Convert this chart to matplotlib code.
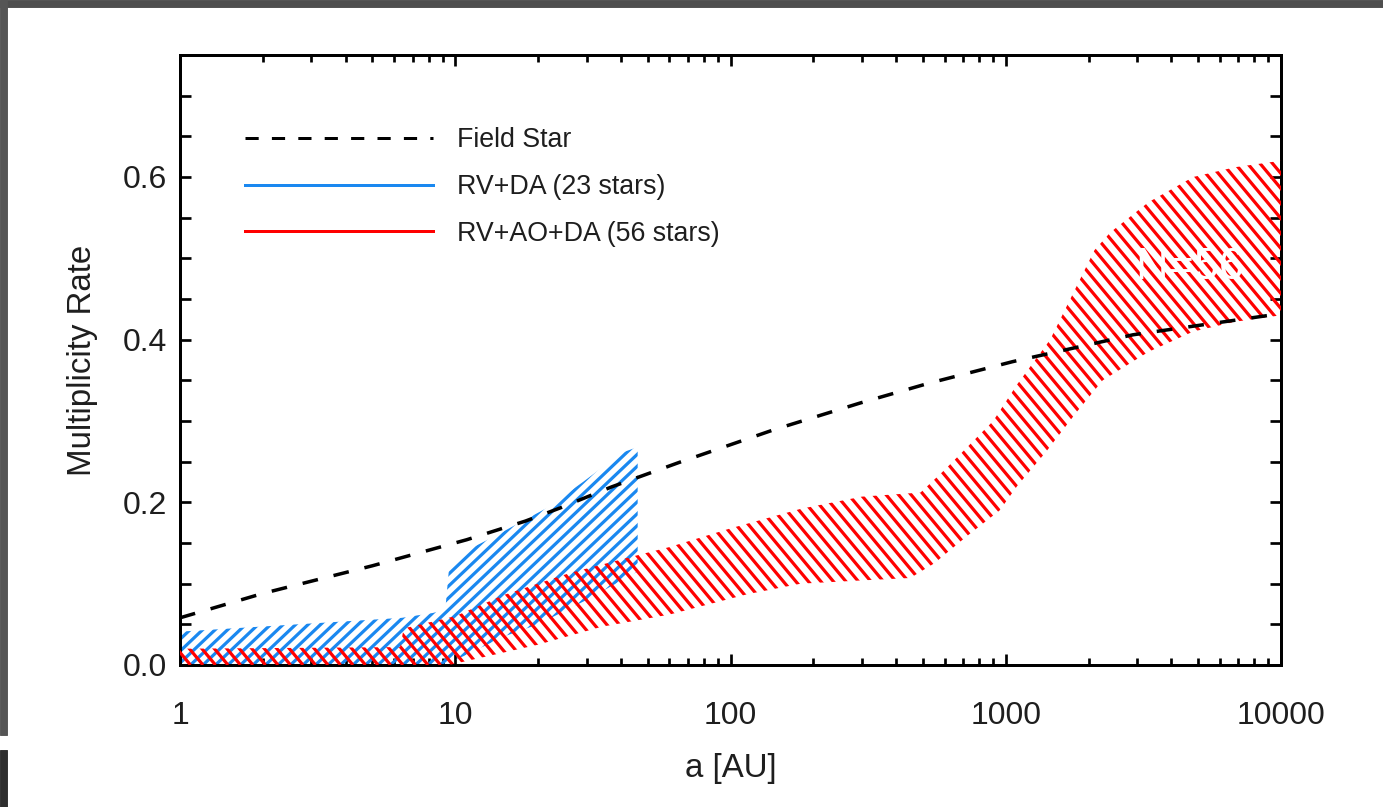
import matplotlib
matplotlib.use('Agg')
import matplotlib.pyplot as plt
from matplotlib.lines import Line2D
from matplotlib.patches import Rectangle
from matplotlib.collections import LineCollection
from matplotlib.ticker import FixedLocator, FixedFormatter, MultipleLocator
import numpy as np

# --- data ---
field_a = [1, 2, 5, 11, 18, 24, 37, 65, 143, 295, 520, 1060, 2900, 10000]
field_rate = [0.058, 0.088, 0.122, 0.154, 0.177, 0.193, 0.219, 0.249, 0.289,
              0.322, 0.346, 0.373, 0.406, 0.432]

# RV+DA (23 stars) band
blue_up_a = [1, 6.4, 8.3, 9.2, 9.5, 10, 11.5, 14.2, 21.5, 29.1, 40.3, 46]
blue_up = [0.041, 0.058, 0.064, 0.068, 0.12, 0.125, 0.144, 0.16, 0.193, 0.225, 0.261, 0.268]
blue_lo_a = [1, 9.2, 15, 20, 30, 46]
blue_lo = [0.0, 0.0, 0.035, 0.05, 0.08, 0.115]

# RV+AO+DA (56 stars) band
red_up_a = [1, 6.3, 6.5, 10, 15, 26, 46, 60, 100, 180, 300, 490, 600, 900,
            1100, 1450, 2100, 2400, 3300, 4800, 6800, 10000]
red_up = [0.02, 0.022, 0.045, 0.06, 0.086, 0.113, 0.135, 0.145, 0.168, 0.192,
          0.207, 0.212, 0.24, 0.30, 0.345, 0.40, 0.51, 0.532, 0.569, 0.60, 0.612, 0.62]
red_lo_a = [1, 9.5, 20, 34, 60, 115, 180, 300, 450, 550, 720, 950, 1100, 1400,
            1800, 2250, 3300, 4800, 6800, 10000]
red_lo = [0.0, 0.0, 0.025, 0.047, 0.062, 0.087, 0.1, 0.104, 0.107, 0.125, 0.158,
          0.19, 0.22, 0.262, 0.31, 0.35, 0.385, 0.41, 0.422, 0.43]

labels = ['Field Star', 'RV+DA (23 stars)', 'RV+AO+DA (56 stars)']
x_ticks = [1, 10, 100, 1000, 10000]
x_ticklabels = ['1', '10', '100', '1000', '10000']
y_ticks = [0.0, 0.2, 0.4, 0.6]
y_ticklabels = ['0.0', '0.2', '0.4', '0.6']

BLUE = '#1a88f0'
RED = '#ff0000'
TXT = '#1e1e1e'

DPI = 66
pt = 72.0 / DPI  # points per pixel
AX_W, AX_H = 1101, 610  # axes size in pixels

plt.rcParams['font.family'] = ['Liberation Sans', 'DejaVu Sans']

fig = plt.figure(figsize=(1383 / DPI, 807 / DPI), dpi=DPI)
ax = fig.add_axes([180 / 1383, 1 - 665 / 807, AX_W / 1383, AX_H / 807])


def line_fill(poly, color, slope, spacing=12.5, lw=3.2, z=2):
    # IDL-like line fill: parallel lines clipped to the band polygon
    segs = []
    dx = AX_H / slope
    for c in np.arange(-2 * AX_W, 2 * AX_W, spacing):
        segs.append([(c / AX_W, 0), ((c + dx) / AX_W, 1)])
    lc = LineCollection(segs, colors=color, linewidths=lw * pt,
                        transform=ax.transAxes, zorder=z, capstyle='butt')
    lc.set_clip_path(poly)
    ax.add_collection(lc)


# blue band
bx = np.concatenate([blue_up_a, blue_lo_a[::-1]])
by = np.concatenate([blue_up, blue_lo[::-1]])
bpoly = ax.fill(bx, by, facecolor='none', edgecolor='none')[0]
line_fill(bpoly, BLUE, 0.95, z=2)

# red band (drawn over blue)
rx = np.concatenate([red_up_a, red_lo_a[::-1]])
ry = np.concatenate([red_up, red_lo[::-1]])
rpoly = ax.fill(rx, ry, facecolor='none', edgecolor='none')[0]
line_fill(rpoly, RED, -1.2, z=3)

# field star curve
ax.plot(field_a, field_rate, color='black', lw=3.5 * pt, ls=(0, (4.5, 4.6)),
        zorder=4, solid_capstyle='butt')

ax.text(0.917, 0.652, 'N=56', transform=ax.transAxes, color='white',
        fontsize=45 * pt, ha='center', va='center', zorder=5)

ax.set_xscale('log')
ax.set_xlim(1, 10000)
ax.set_ylim(0, 0.75)

ax.xaxis.set_major_locator(FixedLocator(x_ticks))
ax.xaxis.set_major_formatter(FixedFormatter(x_ticklabels))
ax.yaxis.set_major_locator(FixedLocator(y_ticks))
ax.yaxis.set_major_formatter(FixedFormatter(y_ticklabels))
ax.yaxis.set_minor_locator(MultipleLocator(0.05))

for s in ax.spines.values():
    s.set_linewidth(3 * pt)

ax.tick_params(which='both', direction='in', top=True, right=True,
               width=2.7 * pt, colors='black', labelcolor=TXT)
ax.tick_params(axis='x', which='major', length=11 * pt, pad=36 * pt, labelsize=32 * pt)
ax.tick_params(axis='x', which='minor', length=7 * pt)
ax.tick_params(axis='y', which='major', length=11 * pt, pad=13 * pt, labelsize=32 * pt)
ax.tick_params(axis='y', which='minor', length=11 * pt)

ax.set_xlabel('a [AU]', fontsize=33 * pt, color=TXT, labelpad=22 * pt)
ax.set_ylabel('Multiplicity Rate', fontsize=33 * pt, color=TXT, labelpad=25 * pt)

handles = [Line2D([], [], color='black', lw=3 * pt, ls=(0, (4.4, 4.4))),
           Line2D([], [], color=BLUE, lw=3 * pt),
           Line2D([], [], color=RED, lw=3 * pt)]
leg = ax.legend(handles, labels, loc='upper left', bbox_to_anchor=(0.059, 0.882),
                frameon=False, fontsize=26.8 * pt, handlelength=7.0,
                handletextpad=0.92, labelspacing=0.78, borderaxespad=0, borderpad=0)
for t in leg.get_texts():
    t.set_color(TXT)

# dark screenshot border
fig.add_artist(Rectangle((0, 1 - 7 / 807), 1, 7 / 807, transform=fig.transFigure,
                         color='#4e4e4e', zorder=10))
fig.add_artist(Rectangle((0, 1 - 735 / 807), 7 / 1383, 735 / 807, transform=fig.transFigure,
                         color='#555555', zorder=10))
fig.add_artist(Rectangle((0, 0), 7 / 1383, 57 / 807, transform=fig.transFigure,
                         color='#2e2e2e', zorder=10))

fig.savefig('out.png', dpi=DPI)
